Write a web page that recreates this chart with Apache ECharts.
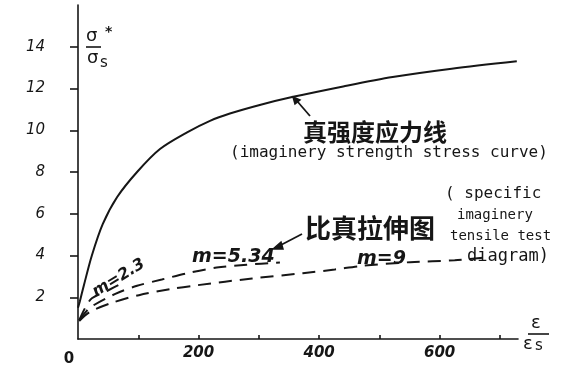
<!DOCTYPE html>
<html>
<head>
<meta charset="utf-8">
<script src="https://cdn.jsdelivr.net/npm/echarts@6/dist/echarts.min.js"></script>
<style>
  html, body { margin: 0; padding: 0; background: #fff; }
  #chart { width: 562px; height: 367px; }
</style>
</head>
<body>
<div id="chart"></div>
<script>
// Strain ratio ε/εs (x) and stress ratio σ*/σs (y)
const trueStrainX  = [0, 3, 10, 23, 41, 65, 98, 136, 181, 219, 252, 300, 357, 440, 522, 620, 728];
const trueStressY  = [1.5, 1.8, 2.6, 4.0, 5.5, 6.8, 8.0, 9.1, 9.9, 10.45, 10.8, 11.2, 11.6, 12.1, 12.55, 12.95, 13.3];

const m23X = [2, 12, 23, 48, 78];
const m23Y = [0.9, 1.5, 1.95, 2.3, 2.75];

const m534X = [2, 20, 61, 98, 139, 181, 230, 280, 335];
const m534Y = [0.9, 1.5, 2.15, 2.55, 2.85, 3.15, 3.42, 3.56, 3.66];

const m9X = [2, 20, 58, 101, 156, 199, 289, 373, 426, 470, 551, 625, 683];
const m9Y = [0.86, 1.3, 1.75, 2.1, 2.4, 2.58, 2.9, 3.15, 3.33, 3.5, 3.68, 3.77, 3.92];

const xTickValues  = [100, 200, 300, 400, 500, 600, 700];
const xLabelValues = [0, 200, 400, 600];
const yTickValues  = [2, 4, 6, 8, 10, 12, 14];

const zip = (xs, ys) => xs.map((x, i) => [x, ys[i]]);
const INK = '#161616';
const numFont = 'DejaVu Sans';
const hand = 'DejaVu Sans';
const mono = '"DejaVu Sans Mono"';
const cjk = '"Noto Sans CJK SC"';

const chart = echarts.init(document.getElementById('chart'), null, { renderer: 'canvas' });

function dashed(name, xs, ys) {
  return {
    name, type: 'line', data: zip(xs, ys), smooth: 0.3,
    symbol: 'none', silent: true,
    lineStyle: { color: INK, width: 2, type: [13, 8] }
  };
}

chart.setOption({
  animation: false,
  backgroundColor: '#fff',
  grid: { left: 78, top: 5, width: 440, height: 336 },
  xAxis: {
    type: 'value', min: 0, max: 730, interval: 100,
    splitLine: { show: false },
    axisLine: { lineStyle: { color: INK, width: 1.6 } },
    axisTick: { inside: true, length: 4, customValues: xTickValues, lineStyle: { color: INK, width: 1.6 } },
    axisLabel: {
      customValues: xLabelValues, margin: 7, color: INK,
      fontFamily: numFont, fontStyle: 'italic', fontWeight: 'bold', fontSize: 15,
      formatter: v => v === 0 ? '{z|0}' : String(v),
      rich: { z: { padding: [6, 18, 0, 0], fontFamily: numFont, fontStyle: 'normal', fontSize: 15, color: INK } }
    }
  },
  yAxis: {
    type: 'value', min: 0, max: 16, interval: 2,
    splitLine: { show: false },
    axisLine: { lineStyle: { color: INK, width: 1.6 } },
    axisTick: { length: 8, customValues: yTickValues, lineStyle: { color: INK, width: 1.6 } },
    axisLabel: {
      customValues: yTickValues, margin: 33, color: INK,
      fontFamily: numFont, fontStyle: 'italic', fontSize: 15,
      padding: [7, 0, 0, 0]
    }
  },
  series: [
    {
      name: 'true strength', type: 'line', data: zip(trueStrainX, trueStressY),
      smooth: 0.3, symbol: 'none', silent: true,
      lineStyle: { color: INK, width: 2 }
    },
    dashed('m=2.3', m23X, m23Y),
    dashed('m=5.34', m534X, m534Y),
    dashed('m=9', m9X, m9Y)
  ],
  graphic: [
    // σ*/σs axis title
    { type: 'text', left: 86, top: 27, style: { text: 'σ', font: '18px ' + hand, fill: INK } },
    { type: 'text', left: 105, top: 25, style: { text: '*', font: 'bold 14px ' + hand, fill: INK } },
    { type: 'line', shape: { x1: 86, y1: 47, x2: 101, y2: 47 }, style: { stroke: INK, lineWidth: 1.6 } },
    { type: 'text', left: 87, top: 49, style: { text: 'σ', font: '18px ' + hand, fill: INK } },
    { type: 'text', left: 100, top: 56, style: { text: 's', font: '15px ' + hand, fill: INK } },

    // ε/εs axis title
    { type: 'text', left: 531, top: 314, style: { text: 'ε', font: '18px ' + hand, fill: INK } },
    { type: 'line', shape: { x1: 528, y1: 334, x2: 549, y2: 334 }, style: { stroke: INK, lineWidth: 1.6 } },
    { type: 'text', left: 523, top: 335, style: { text: 'ε', font: '18px ' + hand, fill: INK } },
    { type: 'text', left: 535, top: 339, style: { text: 's', font: '15px ' + hand, fill: INK } },

    // true strength stress curve annotation
    { type: 'text', left: 303, top: 120, style: { text: '真强度应力线', font: 'bold 24px ' + cjk, fill: INK } },
    { type: 'text', left: 230, top: 145, style: { text: '(imaginery strength stress curve)', font: '16px ' + mono, fill: INK } },
    { type: 'line', shape: { x1: 310, y1: 116, x2: 297, y2: 101 }, style: { stroke: INK, lineWidth: 1.8 } },
    { type: 'polygon', shape: { points: [[293, 97], [300, 100], [295, 104]] }, style: { fill: INK, stroke: INK, lineWidth: 1.5 } },

    // specific imaginery tensile diagram annotation
    { type: 'text', left: 305, top: 215, style: { text: '比真拉伸图', font: 'bold 26px ' + cjk, fill: INK } },
    { type: 'line', shape: { x1: 302, y1: 234, x2: 279, y2: 246 }, style: { stroke: INK, lineWidth: 1.8 } },
    { type: 'polygon', shape: { points: [[273, 249], [281, 242], [283, 249]] }, style: { fill: INK, stroke: INK, lineWidth: 1.5 } },
    { type: 'text', left: 445, top: 186, style: { text: '( specific', font: '16px ' + mono, fill: INK } },
    { type: 'text', left: 457, top: 208, style: { text: 'imaginery', font: '14px ' + mono, fill: INK } },
    { type: 'text', left: 450, top: 229, style: { text: 'tensile test', font: '14px ' + mono, fill: INK } },
    { type: 'text', left: 467, top: 248, style: { text: 'diagram)', font: '17px ' + mono, fill: INK } },

    // curve labels
    { type: 'text', left: 192, top: 248, style: { text: 'm=5.34', font: 'italic bold 19px ' + hand, fill: INK } },
    { type: 'text', left: 357, top: 250, style: { text: 'm=9', font: 'italic bold 19px ' + hand, fill: INK } },
    { type: 'text', x: 98, y: 300, rotation: 0.55, style: { text: 'm=2.3', font: 'italic bold 16px ' + hand, fill: INK, textVerticalAlign: 'bottom' } }
  ]
});
</script>
</body>
</html>
